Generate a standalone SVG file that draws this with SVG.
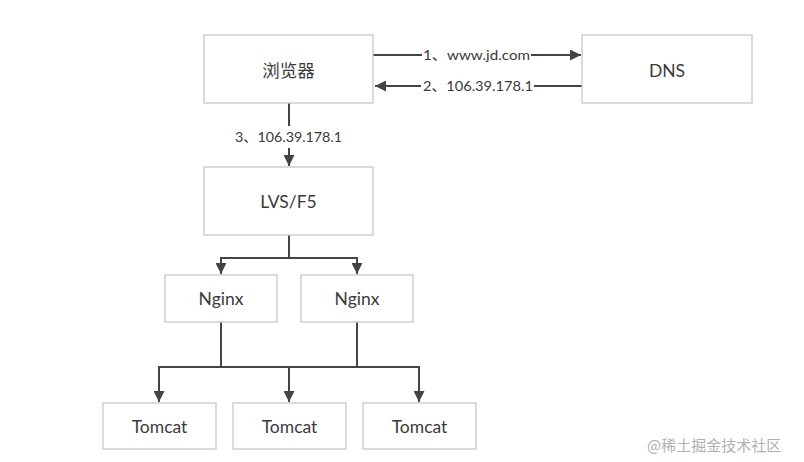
<svg xmlns="http://www.w3.org/2000/svg" width="804" height="462" viewBox="0 0 804 462">
<style>
.box{fill:#fff;stroke:#c8c8c8;stroke-width:1.3}
.t{font-family:Lato,"Noto Sans CJK SC",sans-serif;font-size:17.5px;fill:#3a3a3a;text-anchor:middle;dominant-baseline:central}
.lbl{font-family:Lato,"Noto Sans CJK SC",sans-serif;font-size:14px;fill:#3a3a3a}
.ln{fill:none;stroke:#444;stroke-width:2}
.wm{font-family:"Noto Sans CJK SC",sans-serif;font-size:15px;fill:#b0b0b0}
</style>
<defs>
<marker id="ah" viewBox="0 0 10 10" refX="10" refY="5" markerWidth="6" markerHeight="5.5" orient="auto" markerUnits="strokeWidth">
<path d="M0,0 L10,5 L0,10 z" fill="#444"/>
</marker>
</defs>
<rect width="804" height="462" fill="#fff"/>
<g id="connectors">
<path class="ln" d="M373,55 H422 M531,55 H581" marker-end="url(#ah)"/>
<path class="ln" d="M582,86 H534 M421,86 H375" marker-end="url(#ah)"/>
<path class="ln" d="M289,103 V126 M289,148 V166" marker-end="url(#ah)"/>
<path class="ln" d="M289,235 V258 M289,258 H221 V274" marker-end="url(#ah)"/>
<path class="ln" d="M289,258 H357 V274" marker-end="url(#ah)"/>
<path class="ln" d="M221,322 V367 H159 V402" marker-end="url(#ah)"/>
<path class="ln" d="M357,322 V367 H419 V402" marker-end="url(#ah)"/>
<path class="ln" d="M221,367 H357 M289,367 V402" marker-end="url(#ah)"/>
<text class="lbl" x="423" y="60" textLength="107" lengthAdjust="spacingAndGlyphs">1、www.jd.com</text>
<text class="lbl" x="423" y="91" textLength="110" lengthAdjust="spacingAndGlyphs">2、106.39.178.1</text>
<text class="lbl" x="235" y="142" textLength="107" lengthAdjust="spacingAndGlyphs">3、106.39.178.1</text>
</g>
<g id="browser"><rect class="box" x="204" y="35" width="169" height="68"/><text class="t" x="288.5" y="70">浏览器</text></g>
<g id="dns"><rect class="box" x="582" y="35" width="170" height="68"/><text class="t" x="667" y="70">DNS</text></g>
<g id="lvs"><rect class="box" x="204" y="167" width="169" height="68"/><text class="t" x="288.5" y="201">LVS/F5</text></g>
<g id="nginx1"><rect class="box" x="165" y="275" width="112" height="47"/><text class="t" x="221" y="298.5">Nginx</text></g>
<g id="nginx2"><rect class="box" x="301" y="275" width="112" height="47"/><text class="t" x="357" y="298.5">Nginx</text></g>
<g id="tomcat1"><rect class="box" x="103" y="403" width="113" height="46"/><text class="t" x="159.5" y="426">Tomcat</text></g>
<g id="tomcat2"><rect class="box" x="233" y="403" width="113" height="46"/><text class="t" x="289.5" y="426">Tomcat</text></g>
<g id="tomcat3"><rect class="box" x="363" y="403" width="113" height="46"/><text class="t" x="419.5" y="426">Tomcat</text></g>
<text class="wm" x="647" y="451">@稀土掘金技术社区</text>
</svg>
